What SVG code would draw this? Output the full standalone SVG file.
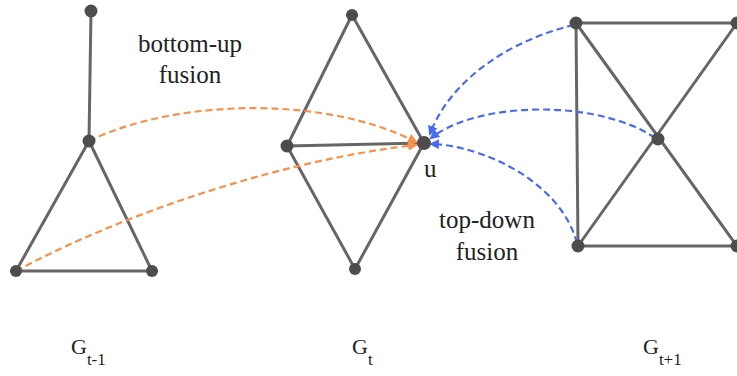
<svg xmlns="http://www.w3.org/2000/svg" width="737" height="376" viewBox="0 0 737 376">
<defs>
<style>
.e{stroke:#666;stroke-width:3;fill:none;stroke-linecap:round}
.n{fill:#4d4d4d}
.o{stroke:#f5914a;stroke-width:2.2;fill:none;stroke-dasharray:7,4}
.b{stroke:#4a6bef;stroke-width:2.2;fill:none;stroke-dasharray:7,4}
</style>
<marker id="ao" viewBox="0 0 10 10" refX="8" refY="5" markerWidth="4.5" markerHeight="4.5" orient="auto" markerUnits="strokeWidth"><path d="M0,0 L10,5 L0,10 z" fill="#f5914a"/></marker>
<marker id="ab" viewBox="0 0 10 10" refX="8" refY="5" markerWidth="4.5" markerHeight="4.5" orient="auto" markerUnits="strokeWidth"><path d="M0,0 L10,5 L0,10 z" fill="#4a6bef"/></marker>
</defs>
<g id="graph-prev">
<line class="e" x1="91" y1="11" x2="89" y2="141"/>
<line class="e" x1="89" y1="141" x2="16" y2="271"/>
<line class="e" x1="89" y1="141" x2="152" y2="271"/>
<line class="e" x1="16" y1="271" x2="152" y2="271"/>
</g>
<g id="graph-cur">
<line class="e" x1="352" y1="15" x2="287" y2="146"/>
<line class="e" x1="352" y1="15" x2="424" y2="143"/>
<line class="e" x1="287" y1="146" x2="424" y2="143"/>
<line class="e" x1="287" y1="146" x2="355" y2="269"/>
<line class="e" x1="424" y1="143" x2="355" y2="269"/>
</g>
<g id="graph-next">
<line class="e" x1="576" y1="23" x2="737" y2="23"/>
<line class="e" x1="576" y1="23" x2="578" y2="246"/>
<line class="e" x1="578" y1="246" x2="737" y2="246"/>
<line class="e" x1="576" y1="23" x2="737" y2="246"/>
<line class="e" x1="578" y1="246" x2="737" y2="23"/>
</g>
<g id="connectors">
<path class="o" d="M89,141 C180,97 330,97 416,142" marker-end="url(#ao)"/>
<path class="o" d="M16,271 C120,215 280,160 416,145" marker-end="url(#ao)"/>
<path class="b" d="M574,25 C510,40 450,80 430,134" marker-end="url(#ab)"/>
<path class="b" d="M655,138 C600,100 480,100 431,138" marker-end="url(#ab)"/>
<path class="b" d="M577,243 C560,180 480,145 431,144" marker-end="url(#ab)"/>
</g>
<g id="nodes">
<circle class="n" cx="91" cy="11" r="6.5"/>
<circle class="n" cx="89" cy="141" r="6.5"/>
<circle class="n" cx="16" cy="271" r="6"/>
<circle class="n" cx="152" cy="271" r="6"/>
<circle class="n" cx="352" cy="15" r="6"/>
<circle class="n" cx="287" cy="146" r="6.5"/>
<circle class="n" cx="355" cy="269" r="6"/>
<circle id="node-u" class="n" cx="424" cy="143" r="7"/>
<circle class="n" cx="576" cy="23" r="6.5"/>
<circle class="n" cx="737" cy="23" r="6.5"/>
<circle class="n" cx="658" cy="139" r="6.5"/>
<circle class="n" cx="578" cy="246" r="6.5"/>
<circle class="n" cx="737" cy="246" r="6.5"/>
</g>
<g id="labels" font-family="'Liberation Serif', 'DejaVu Serif', serif" fill="#222" font-size="25">
<text x="190" y="52" text-anchor="middle">bottom-up</text>
<text x="190" y="83" text-anchor="middle">fusion</text>
<text x="487" y="228" text-anchor="middle">top-down</text>
<text x="487" y="260" text-anchor="middle">fusion</text>
<text x="424" y="177" font-size="25">u</text>
<text x="71" y="354" font-size="22">G<tspan font-size="17" dy="11">t-1</tspan></text>
<text x="352" y="354" font-size="22">G<tspan font-size="17" dy="11">t</tspan></text>
<text x="643" y="354" font-size="22">G<tspan font-size="17" dy="11">t+1</tspan></text>
</g>
</svg>
